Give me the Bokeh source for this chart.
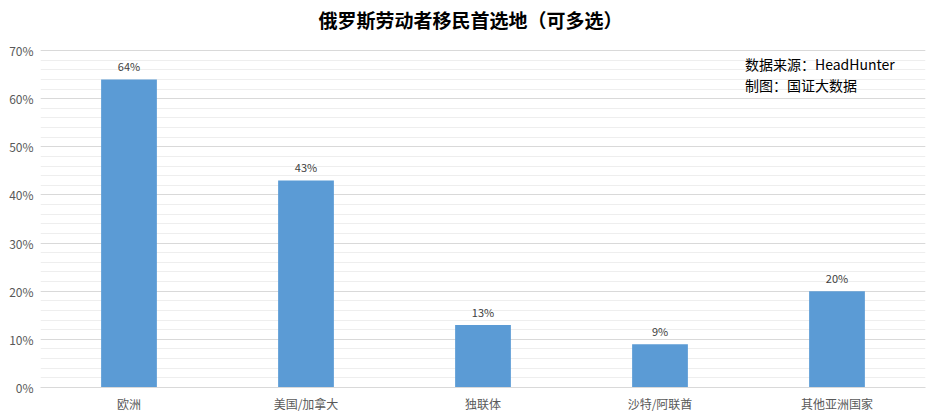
from bokeh.plotting import figure
from bokeh.models import (ColumnDataSource, Range1d, FactorRange, NumeralTickFormatter,
                          FixedTicker, Label)
from bokeh.core.properties import value
from bokeh.embed import file_html
from bokeh.resources import INLINE

categories = ["欧洲", "美国/加拿大", "独联体", "沙特/阿联酋", "其他亚洲国家"]
shares = [0.64, 0.43, 0.13, 0.09, 0.20]
share_labels = ["64%", "43%", "13%", "9%", "20%"]
major_ticks = [0.0, 0.1, 0.2, 0.3, 0.4, 0.5, 0.6, 0.7]
minor_ticks = [i / 50 for i in range(36)]

FONT = "Noto Sans CJK SC"

# plot area of 337 px for 0..70%, plus 50 px of headroom holding the title
PLOT_H = 337
HEAD = 50
y_top = 0.7 * (PLOT_H + HEAD) / PLOT_H
px = 0.7 / PLOT_H  # data units per pixel

src = ColumnDataSource(dict(cat=categories, val=shares, lab=share_labels))

p = figure(frame_width=885, frame_height=PLOT_H + HEAD, output_backend="svg", toolbar_location=None,
           x_range=FactorRange(*categories, range_padding=0), y_range=Range1d(0, y_top),
           min_border_left=40, min_border_right=7, min_border_top=0, min_border_bottom=24)
p.outline_line_color = None
p.background_fill_color = "white"
p.border_fill_color = "white"

p.vbar(x="cat", top="val", width=0.315, source=src, fill_color="#5B9BD5", line_color=None)
p.text(x="cat", y="val", text="lab", source=src, y_offset=-13, text_align="center",
       text_baseline="middle", text_font=value(FONT), text_font_size="11px", text_color="#404040")

p.yaxis.ticker = FixedTicker(ticks=major_ticks, minor_ticks=minor_ticks)
p.yaxis.formatter = NumeralTickFormatter(format="0%")
p.yaxis.axis_line_color = None
p.yaxis.major_tick_line_color = None
p.yaxis.minor_tick_line_color = None
p.yaxis.major_tick_out = 0
p.yaxis.minor_tick_out = 0
p.yaxis.major_label_standoff = 7
p.yaxis.major_label_text_font = FONT
p.yaxis.major_label_text_font_size = "12px"
p.yaxis.major_label_text_color = "#595959"

p.xaxis.axis_line_color = "#d9d9d9"
p.xaxis.major_tick_line_color = None
p.xaxis.minor_tick_line_color = None
p.xaxis.major_tick_out = 0
p.xaxis.minor_tick_out = 0
p.xaxis.major_label_standoff = 7
p.xaxis.major_label_text_font = FONT
p.xaxis.major_label_text_font_size = "12px"
p.xaxis.major_label_text_color = "#595959"

p.xgrid.grid_line_color = None
p.ygrid.grid_line_color = "#d9d9d9"
p.ygrid.minor_grid_line_color = "#eeeeee"

p.add_layout(Label(x=1.57, y=y_top - 19 * px, text="俄罗斯劳动者移民首选地（可多选）",
                   text_font=FONT, text_font_size="19px", text_font_style="bold",
                   text_color="#000000", text_align="left", text_baseline="middle"))
p.add_layout(Label(x=3.98, y=0.671, text="数据来源：HeadHunter", text_font=FONT,
                   text_font_size="14px", text_color="#000000", text_baseline="middle"))
p.add_layout(Label(x=3.98, y=0.629, text="制图：国证大数据", text_font=FONT,
                   text_font_size="14px", text_color="#000000", text_baseline="middle"))

open("out.html", "w").write(file_html(p, INLINE))
